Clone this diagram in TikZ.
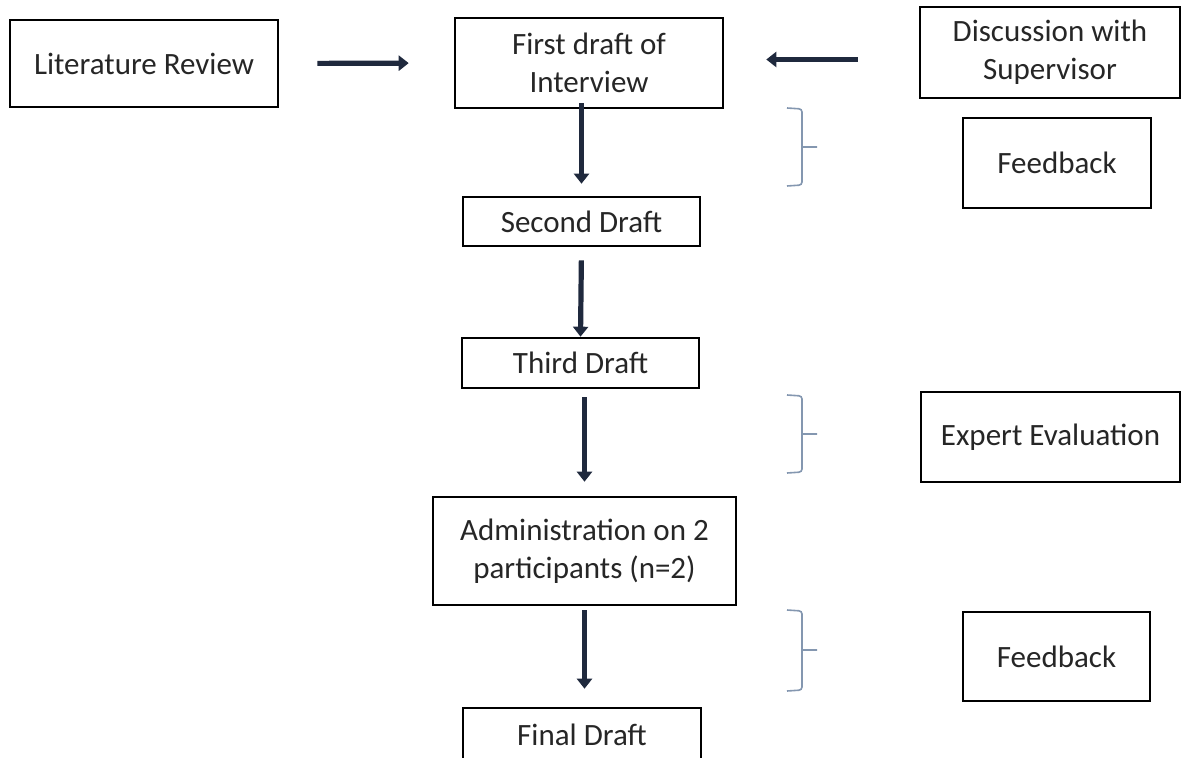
\documentclass[tikz,border=0pt]{standalone}
\usepackage{fontspec}
\setmainfont{Carlito}
\usetikzlibrary{arrows.meta}

\definecolor{arrownavy}{RGB}{31,41,61}
\definecolor{bracegray}{RGB}{132,151,176}

\tikzset{
  stage/.style={draw=black, line width=1.3pt, text=black!85, align=center,
    inner sep=0pt, font=\fontsize{15.5}{19}\selectfont},
  flow/.style={draw=arrownavy, line width=2.6pt, -{Triangle[length=5pt,width=7.5pt]}},
  bracket/.style={draw=bracegray, line width=0.8pt, rounded corners=1.5pt}
}

\begin{document}
\begin{tikzpicture}[x=0.5pt, y=-0.5pt]
        \useasboundingbox (0,0) rectangle (1181,758);

        % the boxes of the main line
        \node[stage, minimum width=134pt, minimum height=43.5pt] (lit) at (144,63.5) {Literature Review};
        \node[stage, minimum width=134pt, minimum height=45pt] (first) at (589,63) {First draft of\\Interview};
        \node[stage, minimum width=118.5pt, minimum height=24.5pt] (second) at (581.5,221.5) {Second Draft};
        \node[stage, minimum width=118.5pt, minimum height=25pt] (third) at (580.5,363) {Third Draft};
        \node[stage, minimum width=151.5pt, minimum height=54pt] (admin) at (584.5,551) {Administration on 2\\participants (n=2)};
        \node[stage, minimum width=119pt, minimum height=27pt] (final) at (582,735) {Final Draft};

        % the boxes on the right
        \node[stage, minimum width=130pt, minimum height=45.5pt] (disc) at (1050,52.5) {Discussion with\\Supervisor};
        \node[stage, minimum width=94pt, minimum height=45pt] (fbone) at (1057,163) {Feedback};
        \node[stage, minimum width=129.5pt, minimum height=45pt] (expert) at (1050.5,437) {Expert Evaluation};
        \node[stage, minimum width=93.5pt, minimum height=44.5pt] (fbtwo) at (1056.5,656.5) {Feedback};

        % draw the arrows
        \draw[flow, shorten <=19pt, shorten >=22.5pt] (lit.east) -- (first.west);
        \draw[flow, shorten <=30.5pt, shorten >=21pt] ([yshift=-3.5pt]disc.west) -- ([yshift=-3.5pt]disc.west -| first.east);
        \draw[flow, shorten <=-3pt, shorten >=6pt] (first.south -| second.north) -- (second.north);
        \draw[flow, shorten <=6.5pt] (second.south) -- (third.north);
        \draw[flow, shorten <=4pt, shorten >=7pt] (third.south -| admin.north) -- (admin.north);
        \draw[flow, shorten <=2pt, shorten >=9pt] (admin.south) -- (admin.south |- final.north);

        % the brackets
        \foreach \top/\tip/\bot in {108/147/186, 395/434/473, 610/650/691}
          \draw[bracket] (787,\top) -- (802,\top+1) -- (802,\bot-1) -- (787,\bot) (802,\tip) -- (817,\tip);

\end{tikzpicture}
\end{document}
